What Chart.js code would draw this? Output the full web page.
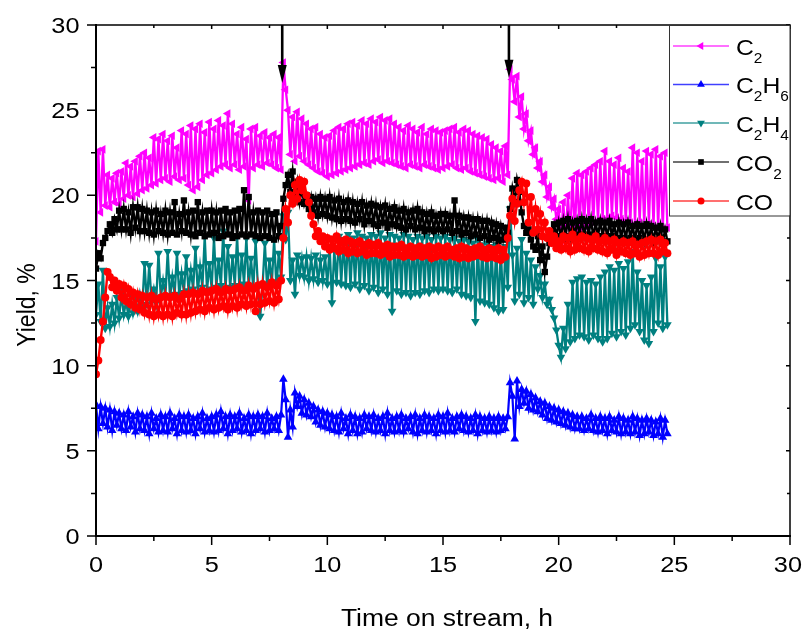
<!DOCTYPE html>
<html><head><meta charset="utf-8">
<script src="https://cdn.jsdelivr.net/npm/chart.js@4/dist/chart.umd.min.js"></script>
<style>html,body{margin:0;padding:0;background:#fff;}canvas{display:block;}</style>
</head><body>
<canvas id="c" width="805" height="631"></canvas>
<script>
// Time on stream (h)
const hours = [
0,0.1,0.2,0.3,0.4,0.5,0.6,0.7,0.8,0.9,
1,1.1,1.2,1.3,1.4,1.5,1.6,1.7,1.8,1.9,
2,2.1,2.2,2.3,2.4,2.5,2.6,2.7,2.8,2.9,
3,3.1,3.2,3.3,3.4,3.5,3.6,3.7,3.8,3.9,
4,4.1,4.2,4.3,4.4,4.5,4.6,4.7,4.8,4.9,
5,5.1,5.2,5.3,5.4,5.5,5.6,5.7,5.8,5.9,
6,6.1,6.2,6.3,6.4,6.5,6.6,6.7,6.8,6.9,
7,7.1,7.2,7.3,7.4,7.5,7.6,7.7,7.8,7.9,
8,8.1,8.2,8.3,8.4,8.5,8.6,8.7,8.8,8.9,
9,9.1,9.2,9.3,9.4,9.5,9.6,9.7,9.8,9.9,
10,10.1,10.2,10.3,10.4,10.5,10.6,10.7,10.8,10.9,
11,11.1,11.2,11.3,11.4,11.5,11.6,11.7,11.8,11.9,
12,12.1,12.2,12.3,12.4,12.5,12.6,12.7,12.8,12.9,
13,13.1,13.2,13.3,13.4,13.5,13.6,13.7,13.8,13.9,
14,14.1,14.2,14.3,14.4,14.5,14.6,14.7,14.8,14.9,
15,15.1,15.2,15.3,15.4,15.5,15.6,15.7,15.8,15.9,
16,16.1,16.2,16.3,16.4,16.5,16.6,16.7,16.8,16.9,
17,17.1,17.2,17.3,17.4,17.5,17.6,17.7,17.8,17.9,
18,18.1,18.2,18.3,18.4,18.5,18.6,18.7,18.8,18.9,
19,19.1,19.2,19.3,19.4,19.5,19.6,19.7,19.8,19.9,
20,20.1,20.2,20.3,20.4,20.5,20.6,20.7,20.8,20.9,
21,21.1,21.2,21.3,21.4,21.5,21.6,21.7,21.8,21.9,
22,22.1,22.2,22.3,22.4,22.5,22.6,22.7,22.8,22.9,
23,23.1,23.2,23.3,23.4,23.5,23.6,23.7,23.8,23.9,
24,24.1,24.2,24.3,24.4,24.5,24.6,24.7
];

// Yields (%)
const c2Yield = [
17.3,22.6,19.0,22.7,19.4,21.2,19.3,21.0,19.6,21.3,
19.5,21.4,19.8,21.9,20.0,21.7,19.9,22.0,20.1,22.3,
20.3,22.5,20.4,22.2,20.6,23.4,20.7,23.3,20.9,23.6,
21.0,23.2,20.8,23.5,21.1,22.8,20.9,23.8,21.0,23.6,
20.6,24.1,20.3,23.9,20.5,24.2,20.9,23.7,21.2,24.3,
21.3,23.9,21.5,24.4,21.7,24.1,21.8,24.8,21.6,24.2,
21.8,23.6,21.5,24.0,21.7,23.3,19.7,23.9,21.6,24.0,
21.8,23.5,21.7,23.7,21.9,23.4,21.8,23.6,21.6,23.4,
21.5,27.8,26.2,25.0,22.4,24.6,22.0,24.9,22.3,24.5,
22.0,24.2,21.8,23.9,21.6,24.0,21.4,23.6,21.3,23.4,
21.1,23.5,21.2,23.8,21.3,24.0,21.4,23.9,21.5,24.2,
21.6,24.3,21.7,24.1,21.8,24.4,21.9,24.2,21.8,24.5,
22.0,24.3,22.1,24.6,21.9,24.4,22.0,24.5,21.9,24.2,
21.8,24.0,21.7,23.8,21.6,24.1,21.8,23.9,21.7,23.7,
21.6,24.0,21.8,23.6,21.7,23.9,21.6,23.8,21.5,23.7,
21.6,23.8,21.7,23.9,21.8,24.0,21.6,23.7,21.5,23.9,
21.6,23.8,21.4,23.6,21.3,23.5,21.2,23.4,21.1,23.3,
21.0,23.0,20.9,22.8,21.0,22.6,20.8,22.9,21.2,27.4,
26.8,25.5,27.0,24.6,25.8,23.9,24.8,23.2,23.8,22.4,
22.8,21.6,22.0,20.8,21.2,19.9,20.5,19.3,19.8,18.6,
19.2,17.2,19.6,17.4,20.0,17.6,21.0,17.8,21.3,18.0,
21.2,18.2,21.4,18.3,21.6,18.4,21.8,18.5,22.0,18.6,
22.6,18.6,22.0,18.8,21.8,18.7,22.2,18.6,21.6,18.5,
21.4,18.4,22.8,18.3,22.5,18.4,22.0,18.2,22.6,18.3,
22.4,18.2,22.7,18.1,22.3,18.0,22.5,18.1
];
const c2h6Yield = [
7.7,6.3,7.6,6.6,7.5,6.4,7.4,6.2,7.3,6.5,
7.2,6.3,7.1,6.2,7.3,6.4,7.0,6.1,7.2,6.3,
7.1,6.2,7.0,6.0,7.2,6.3,6.9,6.1,7.1,6.2,
7.0,6.1,7.2,6.3,6.9,6.0,7.1,6.2,7.0,6.1,
7.1,6.2,6.9,6.0,7.0,6.3,7.2,6.1,6.9,6.2,
7.0,6.1,7.1,6.2,7.3,6.3,7.0,6.0,7.1,6.2,
7.0,6.3,7.2,6.1,6.9,6.2,7.1,6.0,7.0,6.2,
7.1,6.3,7.0,6.1,7.2,6.2,6.9,6.3,7.0,6.2,
7.1,9.2,8.0,5.8,7.4,6.4,8.4,7.6,8.2,7.2,
8.0,7.1,7.8,7.0,7.6,6.7,7.4,6.5,7.3,6.4,
7.2,6.3,7.1,6.2,7.0,6.1,7.2,6.3,6.9,6.0,
7.1,6.2,7.0,6.0,6.9,6.1,7.1,6.3,7.0,6.2,
7.1,6.1,6.9,6.2,7.0,6.0,7.2,6.2,6.9,6.1,
7.0,6.2,7.1,6.1,6.9,6.3,7.0,6.1,7.1,6.0,
6.9,6.2,7.1,6.1,7.0,6.2,6.9,6.0,7.1,6.2,
7.0,6.1,7.2,6.2,6.9,6.1,7.0,6.3,7.1,6.2,
7.0,6.1,6.9,6.2,7.1,6.0,7.0,6.2,6.9,6.1,
7.0,6.2,6.9,6.1,7.0,6.2,6.9,6.3,7.0,9.0,
8.2,5.7,9.1,7.6,8.6,7.8,8.5,7.5,8.3,7.4,
8.1,7.3,7.9,7.1,7.8,6.9,7.6,6.8,7.5,6.7,
7.4,6.6,7.3,6.5,7.2,6.4,7.1,6.3,7.0,6.3,
7.0,6.2,6.9,6.3,7.1,6.2,6.9,6.1,7.0,6.2,
6.9,6.0,7.0,6.2,6.8,6.1,7.0,6.0,6.9,6.1,
6.8,6.0,7.0,6.1,6.9,5.9,6.8,6.0,6.9,6.1,
6.8,5.9,6.7,6.0,6.9,5.8,6.8,6.0
];
const c2h4Yield = [
13.0,14.8,12.6,15.6,12.2,13.4,12.3,13.6,12.5,14.0,
12.8,14.2,13.0,13.8,12.9,14.1,13.1,13.9,13.2,14.2,
13.5,16.0,13.6,15.9,13.8,14.5,13.7,16.6,14.0,15.0,
14.1,16.7,14.0,15.2,14.2,16.6,14.1,15.4,14.3,16.4,
14.4,15.6,14.5,16.9,14.3,15.8,14.6,17.6,14.4,16.0,
14.5,17.5,14.6,16.2,14.7,17.9,14.5,17.0,14.6,16.4,
14.7,17.6,14.5,16.5,14.8,17.5,14.6,16.3,14.5,17.3,
14.6,12.9,14.7,17.2,14.5,16.2,14.8,17.4,14.6,16.6,
15.2,18.8,17.4,19.0,15.0,16.2,14.2,16.5,15.3,16.3,
15.2,16.4,15.0,16.3,15.1,16.5,14.9,16.2,15.0,16.4,
14.8,17.0,13.7,16.8,14.9,17.6,14.8,17.4,14.7,17.7,
14.6,17.5,14.8,17.8,14.5,17.6,14.7,17.5,14.4,17.7,
14.6,17.6,14.3,17.8,14.5,17.5,14.2,17.7,13.2,17.6,
14.4,17.5,14.2,17.7,14.3,17.6,14.1,17.4,14.3,17.6,
14.2,17.5,14.4,17.6,14.3,17.4,14.5,17.6,14.4,17.5,
14.5,17.6,14.4,17.4,14.3,17.5,14.5,17.3,14.2,17.4,
14.1,17.3,14.0,17.2,12.6,17.4,13.8,17.1,13.7,17.2,
13.6,17.0,13.4,17.1,13.2,16.9,13.3,17.0,14.6,19.2,
16.5,13.8,16.9,14.2,17.4,13.7,16.6,14.0,16.2,13.6,
15.8,14.5,15.3,14.0,14.8,13.6,13.9,13.3,12.8,12.1,
11.2,10.5,12.2,11.0,13.6,11.4,14.9,11.6,15.1,11.8,
15.2,11.7,14.9,11.5,15.0,11.8,14.8,11.6,15.2,11.4,
15.5,11.6,15.8,11.9,15.6,11.7,16.0,12.0,15.7,11.8,
16.1,12.2,16.7,12.4,15.5,12.0,15.0,11.5,14.7,11.3,
15.2,12.0,16.3,12.5,15.8,12.2,16.4,12.4
];
const co2Yield = [
15.7,16.6,16.3,17.2,17.5,17.9,18.3,17.8,18.6,18.0,
19.1,18.0,19.2,18.0,19.0,17.8,19.3,18.1,19.3,17.9,
19.2,17.9,19.1,17.8,19.0,17.7,19.1,17.9,18.9,17.8,
19.1,17.7,19.0,17.8,19.6,17.7,18.9,17.9,19.7,17.8,
19.0,17.7,19.1,17.6,19.6,17.8,19.0,17.6,19.1,17.7,
19.1,17.8,19.0,17.5,19.1,17.6,19.2,17.7,19.0,17.5,
19.1,17.6,19.2,17.7,20.3,17.6,19.9,17.7,19.0,17.6,
19.1,17.5,19.0,17.6,19.1,17.5,18.9,17.4,19.0,17.6,
18.2,19.8,20.6,21.2,20.2,21.4,20.0,20.8,19.6,20.4,
19.5,20.0,19.2,19.9,19.0,19.8,18.8,19.9,18.9,19.8,
18.8,19.9,18.7,19.7,18.6,19.8,18.5,19.6,18.6,19.7,
18.5,19.6,18.4,19.5,18.6,19.6,18.3,19.4,18.5,19.5,
18.3,19.4,18.2,19.3,18.4,19.4,18.1,19.2,18.3,19.3,
18.2,19.1,18.1,19.2,18.0,19.0,18.2,19.1,18.0,19.2,
18.1,19.0,17.9,18.9,18.0,19.0,17.9,18.8,18.0,18.9,
17.9,18.9,18.0,18.8,17.8,19.7,17.9,18.8,17.7,18.7,
17.8,18.7,17.6,18.6,17.7,18.6,17.5,18.5,17.6,18.5,
17.4,18.4,17.5,18.3,17.3,18.2,17.4,18.1,17.8,19.2,
20.4,19.6,20.9,20.2,19.0,18.2,17.8,18.0,17.4,17.0,
16.8,17.6,16.2,17.0,15.5,16.4,17.2,17.8,18.3,17.6,
18.4,17.5,18.5,17.6,18.6,17.5,18.4,17.6,18.5,17.7,
18.6,17.6,18.5,17.7,18.6,17.5,18.4,17.6,18.5,17.6,
18.4,17.5,18.5,17.6,18.3,17.4,18.4,17.5,18.3,17.4,
18.4,17.5,18.2,17.4,18.3,17.5,18.2,17.3,18.3,17.4,
18.2,17.3,18.1,17.4,18.2,17.2,18.0,17.3
];
const coYield = [
9.5,10.3,11.5,12.6,14.0,15.5,15.2,14.6,15.0,14.4,
14.8,14.0,14.7,13.8,14.5,13.6,14.3,13.4,14.2,13.3,
14.1,13.1,14.0,13.0,14.1,12.9,13.9,13.0,14.0,12.9,
14.1,13.0,14.0,12.9,14.1,13.1,13.9,13.0,14.2,13.0,
14.2,13.1,14.3,13.2,14.2,13.3,14.4,13.2,14.3,13.4,
14.4,13.3,14.5,13.4,14.3,13.5,14.5,13.3,14.4,13.5,
14.5,13.4,14.6,13.6,14.4,13.5,14.7,13.6,14.5,13.2,
14.7,13.6,14.8,13.7,14.6,13.8,14.9,13.7,14.7,13.9,
15.0,17.5,19.2,18.4,20.0,19.5,20.6,19.8,20.9,20.3,
20.8,20.0,19.6,18.8,18.3,17.6,17.9,17.3,17.6,17.0,
17.5,16.8,17.4,16.9,17.6,16.7,17.3,16.8,17.4,16.6,
17.3,16.7,17.2,16.6,17.3,16.7,17.1,16.5,17.2,16.6,
17.1,16.6,17.2,16.5,17.0,16.6,17.1,16.4,17.0,16.5,
17.0,16.5,17.1,16.4,16.9,16.5,17.0,16.4,16.9,16.5,
17.0,16.4,16.9,16.5,17.0,16.3,16.9,16.4,17.0,16.5,
16.9,16.4,17.0,16.5,16.8,16.4,16.9,16.3,17.0,16.4,
16.9,16.3,16.8,16.4,16.9,16.5,17.0,16.4,16.8,16.3,
16.9,16.4,16.8,16.3,16.9,16.2,16.8,16.4,17.5,18.8,
19.8,18.5,19.5,20.3,20.8,19.6,20.7,18.4,19.9,17.8,
19.2,18.0,18.9,17.6,18.4,17.5,17.9,17.2,17.6,16.9,
17.3,16.8,17.6,16.9,17.5,16.7,17.7,16.8,17.4,16.9,
17.6,16.8,17.5,16.7,17.4,16.9,17.6,16.8,17.3,16.7,
17.5,16.6,17.3,16.8,17.4,16.5,17.2,16.7,17.3,16.6,
17.2,16.5,17.3,16.6,17.1,16.4,17.2,16.5,17.3,16.6,
17.4,16.6,17.3,16.5,17.4,16.7,17.2,16.6
];

const seriesNames = ['C_2', 'C_2H_6', 'C_2H_4', 'CO_2', 'CO'];
const seriesColors = ['#ff00ff', '#0000ff', '#008080', '#000000', '#ff0000'];
const xTickLabels = ['0', '5', '10', '15', '20', '25', '30'];
const yTickLabels = ['0', '5', '10', '15', '20', '25', '30'];
const xTitle = 'Time on stream, h';
const yTitle = 'Yield, %';
// feed-switch arrows: time (h) and yield at arrow tip (%)
const arrowTimes = [8.05, 17.85];
const arrowTips = [26.6, 26.9];

const seriesValues = [c2Yield, c2h6Yield, c2h4Yield, co2Yield, coYield];
const markerStyles = [
  {pointStyle: 'triangle', rotation: -90, radius: 5, width: 2.3},
  {pointStyle: 'triangle', rotation: 0, radius: 5, width: 2.2},
  {pointStyle: 'triangle', rotation: 180, radius: 5, width: 2.3},
  {pointStyle: 'rect', rotation: 0, radius: 4.5, width: 2.4},
  {pointStyle: 'circle', rotation: 0, radius: 4, width: 2.4}
];
const drawOrder = [5, 4, 3, 2, 1];

const datasets = seriesValues.map((vals, k) => ({
  label: seriesNames[k].replace(/_/g, ''),
  data: hours.map((t, i) => ({x: t, y: vals[i]})),
  borderColor: seriesColors[k],
  backgroundColor: seriesColors[k],
  borderWidth: markerStyles[k].width,
  pointRadius: markerStyles[k].radius,
  pointBorderWidth: 0,
  pointStyle: markerStyles[k].pointStyle,
  rotation: markerStyles[k].rotation,
  tension: 0,
  order: drawOrder[k]
}));

const SX = 1.15; // horizontal stretch of text as in the reference
const FONT = '"Liberation Sans", Arial, sans-serif';

function stretchedText(ctx, txt, x, y, size, align, baseline) {
  ctx.save();
  ctx.translate(x, y);
  ctx.scale(SX, 1);
  ctx.font = size + 'px ' + FONT;
  ctx.textAlign = align;
  ctx.textBaseline = baseline;
  ctx.fillText(txt, 0, 0);
  ctx.restore();
}

function drawSubText(ctx, label, x, baseY, size, subSize, subDrop, sx) {
  // label like "C_2H_6": the character after '_' is a subscript
  let cx = x;
  for (let i = 0; i < label.length; i++) {
    let ch = label[i], sub = false;
    if (ch === '_') { i++; ch = label[i]; sub = true; }
    const fs = sub ? subSize : size;
    ctx.font = fs + 'px ' + FONT;
    const w = ctx.measureText(ch).width * sx;
    ctx.save();
    ctx.translate(cx, baseY + (sub ? subDrop : 0));
    ctx.scale(sx, 1);
    ctx.textAlign = 'left';
    ctx.textBaseline = 'alphabetic';
    ctx.fillText(ch, 0, 0);
    ctx.restore();
    cx += w;
  }
}

const decor = {
  id: 'decor',
  afterDatasetsDraw(chart) {
    const ctx = chart.ctx, a = chart.chartArea;
    const xs = chart.scales.x, ys = chart.scales.y;
    ctx.save();
    ctx.strokeStyle = '#000';
    ctx.fillStyle = '#000';
    // frame top/right
    ctx.lineWidth = 1.5;
    ctx.beginPath();
    ctx.moveTo(a.left, a.top); ctx.lineTo(a.right, a.top); ctx.lineTo(a.right, a.bottom);
    ctx.stroke();
    // axes left/bottom
    ctx.lineWidth = 2;
    ctx.beginPath();
    ctx.moveTo(a.left, a.top - 1); ctx.lineTo(a.left, a.bottom); ctx.lineTo(a.right + 1, a.bottom);
    ctx.stroke();
    // ticks
    ctx.lineWidth = 1.5;
    for (let v = 0; v <= 30; v += 2.5) {
      const major = Math.abs(v % 5) < 1e-9;
      const px = xs.getPixelForValue(v), py = ys.getPixelForValue(v);
      const L = major ? 9 : 5, Li = major ? 4 : 3;
      ctx.beginPath();
      ctx.moveTo(px, a.bottom); ctx.lineTo(px, a.bottom + L);
      ctx.moveTo(a.left, py); ctx.lineTo(a.left - L, py);
      ctx.moveTo(px, a.top); ctx.lineTo(px, a.top + Li);
      ctx.moveTo(a.right, py); ctx.lineTo(a.right - Li, py);
      ctx.stroke();
    }
    // arrows
    arrowTimes.forEach((t, i) => {
      const x = xs.getPixelForValue(t), tip = ys.getPixelForValue(arrowTips[i]);
      ctx.lineWidth = 2.6;
      ctx.beginPath();
      ctx.moveTo(x, a.top); ctx.lineTo(x, tip - 14);
      ctx.stroke();
      ctx.beginPath();
      ctx.moveTo(x - 4.5, tip - 18); ctx.lineTo(x + 4.5, tip - 18); ctx.lineTo(x, tip);
      ctx.closePath(); ctx.fill();
    });
    // legend
    const lx0 = 669.5, ly0 = a.top, lx1 = a.right, ly1 = 215.5;
    ctx.fillStyle = '#fff';
    ctx.fillRect(lx0, ly0, lx1 - lx0, ly1 - ly0);
    ctx.strokeStyle = '#333';
    ctx.lineWidth = 1;
    ctx.strokeRect(lx0, ly0 + 0.5, lx1 - lx0, ly1 - ly0);
    const rowY = [46, 84.5, 123, 162, 201];
    seriesNames.forEach((name, k) => {
      const y = rowY[k];
      ctx.strokeStyle = seriesColors[k];
      ctx.globalAlpha = 0.75;
      ctx.lineWidth = 1.6;
      ctx.beginPath(); ctx.moveTo(673, y); ctx.lineTo(729, y); ctx.stroke();
      ctx.globalAlpha = 1;
      ctx.fillStyle = seriesColors[k];
      Chart.helpers.drawPoint(ctx, {pointStyle: markerStyles[k].pointStyle, rotation: markerStyles[k].rotation,
        radius: markerStyles[k].radius - 0.5, borderWidth: 0}, 701, y);
      ctx.fillStyle = '#000';
      drawSubText(ctx, name, 736, y + 8.5, 22.5, 14, 8, 1.1);
    });
    ctx.restore();
  },
  afterDraw(chart) {
    const ctx = chart.ctx, a = chart.chartArea;
    const xs = chart.scales.x, ys = chart.scales.y;
    ctx.save();
    ctx.fillStyle = '#000';
    xTickLabels.forEach((lab) => {
      const v = parseFloat(lab);
      let x = xs.getPixelForValue(v);
      ctx.font = '22px ' + FONT;
      const w = ctx.measureText(lab).width * SX;
      if (x + w / 2 > 802) x = 802 - w / 2;
      stretchedText(ctx, lab, x, 571.5, 22, 'center', 'alphabetic');
    });
    yTickLabels.forEach((lab) => {
      const v = parseFloat(lab);
      const y = ys.getPixelForValue(v);
      stretchedText(ctx, lab, 79.5, y + 8, 22, 'right', 'alphabetic');
    });
    stretchedText(ctx, xTitle, (a.left + a.right) / 2 + 4, 626, 23, 'center', 'alphabetic');
    // y title, rotated
    ctx.save();
    ctx.translate(35, 305);
    ctx.scale(SX, 1);
    ctx.rotate(-Math.PI / 2);
    ctx.font = '23px ' + FONT;
    ctx.textAlign = 'center';
    ctx.textBaseline = 'alphabetic';
    ctx.fillText(yTitle, 0, 0);
    ctx.restore();
    ctx.restore();
  }
};

new Chart(document.getElementById('c'), {
  type: 'line',
  data: {datasets},
  options: {
    responsive: false,
    animation: false,
    layout: {padding: {top: 25, right: 15, left: 0, bottom: 0}},
    scales: {
      x: {type: 'linear', min: 0, max: 30, ticks: {display: false, stepSize: 5},
          grid: {display: false}, border: {display: false},
          afterFit(s) { s.height = 95; }},
      y: {type: 'linear', min: 0, max: 30, ticks: {display: false, stepSize: 5},
          grid: {display: false}, border: {display: false},
          afterFit(s) { s.width = 96; }}
    },
    plugins: {legend: {display: false}, tooltip: {enabled: false}}
  },
  plugins: [decor]
});
</script>
</body></html>
